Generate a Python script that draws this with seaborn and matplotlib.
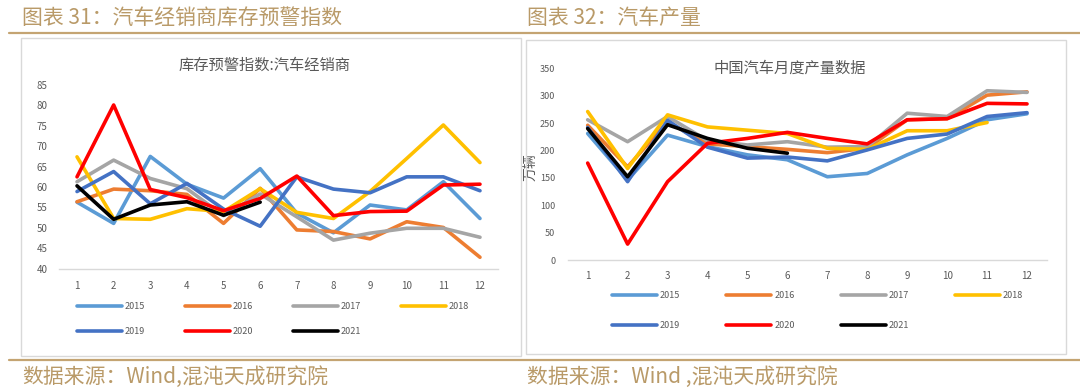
import pandas as pd
import matplotlib.pyplot as plt
import seaborn as sns
from matplotlib.patches import Rectangle
from matplotlib.lines import Line2D

sns.set_style("white")
plt.rcParams['font.family'] = ['Noto Sans CJK SC', 'DejaVu Sans']
plt.rcParams['axes.unicode_minus'] = False

# ----- data -----
months = list(range(1, 13))
years = ['2015', '2016', '2017', '2018', '2019', '2020', '2021']
colors = ['#5B9BD5', '#ED7D31', '#A5A5A5', '#FFC000', '#4472C4', '#FF0000', '#000000']

# dealer inventory warning index
inv_2015 = [56.3, 51.1, 67.5, 60.7, 57.3, 64.5, 53.6, 48.8, 55.6, 54.4, 61.3, 52.3]
inv_2016 = [56.4, 59.5, 59.1, 58.2, 51.1, 59.7, 49.5, 49.1, 47.3, 51.5, 50.1, 42.8]
inv_2017 = [61.3, 66.6, 62.1, 59.6, 53.0, 58.3, 52.7, 47.0, 48.7, 49.9, 49.9, 47.7]
inv_2018 = [67.4, 52.3, 52.1, 54.7, 54.0, 59.6, 53.8, 52.3, 58.9, 67.0, 75.2, 66.0]
inv_2019 = [58.9, 63.8, 55.9, 60.9, 54.6, 50.4, 62.5, 59.5, 58.6, 62.5, 62.5, 59.1]
inv_2020 = [62.5, 80.1, 59.4, 57.4, 54.2, 57.2, 62.7, 53.0, 54.0, 54.1, 60.5, 60.7]
inv_2021 = [60.3, 52.1, 55.6, 56.4, 53.1, 56.3]

# monthly car output (10k units)
prod_2015 = [231, 146, 228, 207, 192, 183, 152, 158, 192, 222, 256, 267]
prod_2016 = [246, 170, 252, 212, 207, 202, 196, 204, 256, 258, 301, 307]
prod_2017 = [256, 216, 262, 218, 210, 216, 206, 207, 268, 262, 309, 306]
prod_2018 = [271, 167, 265, 243, 237, 231, 204, 202, 236, 236, 251]
prod_2019 = [242, 143, 255, 206, 186, 188, 181, 201, 222, 230, 262, 269]
prod_2020 = [177, 29, 143, 213, 222, 233, 222, 212, 256, 258, 286, 285]
prod_2021 = [240, 152, 247, 222, 204, 195]

inv_series = [inv_2015, inv_2016, inv_2017, inv_2018, inv_2019, inv_2020, inv_2021]
prod_series = [prod_2015, prod_2016, prod_2017, prod_2018, prod_2019, prod_2020, prod_2021]


def to_long(series):
    rows = []
    for yr, vals in zip(years, series):
        for m, v in zip(months, vals):
            rows.append({'month': m, 'value': v, 'year': yr})
    return pd.DataFrame(rows)


df_inv = to_long(inv_series)
df_prod = to_long(prod_series)
palette = dict(zip(years, colors))

gold = '#B99A68'
tick_gray = '#595959'
W, H = 1080, 392

fig = plt.figure(figsize=(10.8, 3.92), dpi=100)

# header / footer decoration
fig.add_artist(Line2D([9 / W, 1], [1 - 33 / H, 1 - 33 / H], color='#C4A472', lw=1.6))
fig.add_artist(Line2D([9 / W, 1], [1 - 360 / H, 1 - 360 / H], color='#C4A472', lw=1.6))
fig.add_artist(Rectangle((21 / W, 1 - 356 / H), 500 / W, 318 / H, fill=False,
                         ec='#D9D9D9', lw=1.0))
fig.add_artist(Rectangle((526 / W, 1 - 354 / H), 540 / W, 314 / H, fill=False,
                         ec='#D9D9D9', lw=1.0))
fig.text(22 / W, 1 - 18 / H, '图表 31：汽车经销商库存预警指数', color=gold,
         fontsize=15, va='center', ha='left')
fig.text(527 / W, 1 - 18 / H, '图表 32：汽车产量', color=gold,
         fontsize=15, va='center', ha='left')
fig.text(22 / W, 1 - 377 / H, '数据来源：Wind,混沌天成研究院', color=gold,
         fontsize=15, va='center', ha='left')
fig.text(527 / W, 1 - 377 / H, '数据来源：Wind ,混沌天成研究院', color=gold,
         fontsize=15, va='center', ha='left')


def style_axes(ax, ylim, yticks):
    ax.set_xlim(0.5, 12.5)
    ax.set_ylim(*ylim)
    ax.set_xticks(months)
    ax.set_yticks(yticks)
    for s in ['top', 'right', 'left']:
        ax.spines[s].set_visible(False)
    ax.spines['bottom'].set_color('#D9D9D9')
    ax.spines['bottom'].set_linewidth(1.0)
    ax.tick_params(axis='both', length=0, colors=tick_gray, labelsize=7)
    ax.tick_params(axis='x', pad=9)
    ax.tick_params(axis='y', pad=8)
    ax.set_xlabel('')
    ax.set_ylabel('')
    ax.set_facecolor('none')


def draw(ax, df):
    sns.lineplot(data=df, x='month', y='value', hue='year', hue_order=years,
                 palette=palette, linewidth=2.6, sort=False, legend=False, ax=ax)
    for ln in ax.get_lines():
        ln.set_solid_capstyle('round')
        ln.set_solid_joinstyle('round')


def add_legend(ax, loc_xy, rowsp, colsp):
    lines = ax.get_lines()[:len(years)]
    order = [0, 4, 1, 5, 2, 6, 3]
    fig.legend([lines[i] for i in order], [years[i] for i in order],
               ncol=4, loc='upper left', bbox_to_anchor=loc_xy, frameon=False,
               fontsize=6.5, handlelength=5.0, handletextpad=0.3,
               labelspacing=rowsp, columnspacing=colsp, labelcolor=tick_gray,
               borderaxespad=0, borderpad=0)


# ----- left panel -----
ax1 = fig.add_axes([58.7 / W, 1 - 268.7 / H, 439.6 / W, 183.7 / H])
draw(ax1, df_inv)
style_axes(ax1, (40, 85), list(range(40, 90, 5)))
fig.text(265 / W, 1 - 65 / H, '库存预警指数:汽车经销商', color=tick_gray,
         fontsize=11, ha='center', va='center')
add_legend(ax1, (77 / W, 1 - 302 / H), 1.75, 4.4)

# ----- right panel -----
ax2 = fig.add_axes([567.7 / W, 1 - 260 / H, 479.3 / W, 191.7 / H])
draw(ax2, df_prod)
style_axes(ax2, (0, 350), list(range(0, 400, 50)))
ax2.tick_params(axis='y', labelsize=6.5, pad=9)
ax2.tick_params(axis='x', pad=8)
ax2.set_ylabel('万辆', color=tick_gray, fontsize=10)
ax2.yaxis.set_label_coords(-0.062, 0.485)
fig.text(790 / W, 1 - 68 / H, '中国汽车月度产量数据', color=tick_gray,
         fontsize=11, ha='center', va='center')
add_legend(ax2, (612 / W, 1 - 291 / H), 2.3, 5.1)

plt.savefig('out.png', dpi=100)
